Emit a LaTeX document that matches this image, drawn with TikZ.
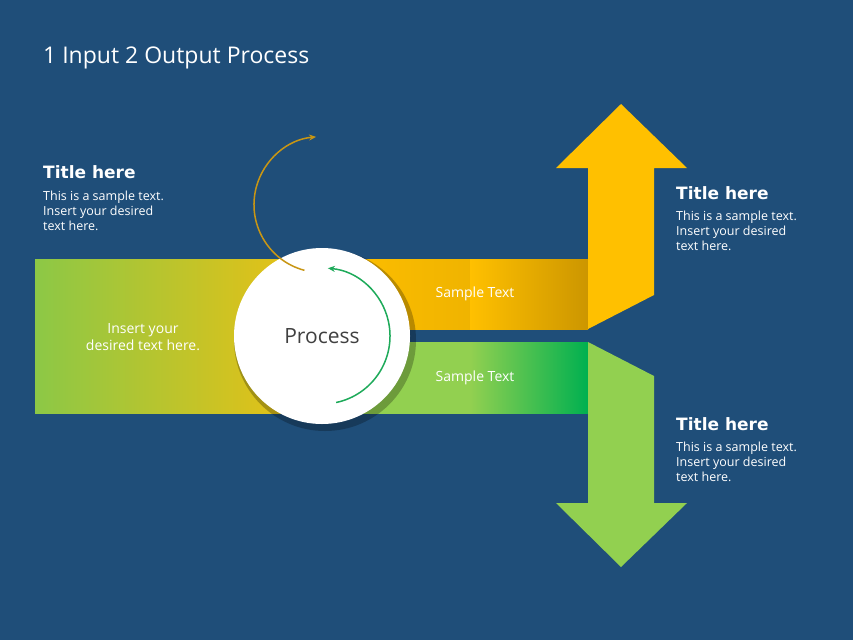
\documentclass[tikz,border=0pt]{standalone}
\usepackage{fontspec}
\setmainfont{Open Sans}
\newfontfamily\dv{DejaVu Sans}
\usetikzlibrary{arrows.meta}
\definecolor{bg}{RGB}{31,78,121}
\definecolor{yel}{RGB}{255,192,0}
\definecolor{dyel}{RGB}{204,150,0}
\definecolor{grn}{RGB}{146,208,80}
\definecolor{dgrn}{RGB}{0,176,80}
\definecolor{lgrn}{RGB}{140,200,70}
\definecolor{ayel}{RGB}{240,192,16}
\definecolor{arcy}{RGB}{200,150,20}
\definecolor{arcg}{RGB}{30,170,90}
\tikzset{
  ttl/.style={text=white,anchor=north west,font=\dv\bfseries\fontsize{17}{20}\selectfont,inner sep=0},
  body/.style={text=white,anchor=north west,align=left,font=\fontsize{12.5}{15}\selectfont,inner sep=0},
  lbl/.style={text=white,font=\fontsize{14}{17}\selectfont},
}
\begin{document}
\begin{tikzpicture}[x=1pt,y=-1pt]
\fill[bg] (0,0) rectangle (853,640);
\useasboundingbox (0,0) rectangle (853,640);
\node[text=white,anchor=north west,inner sep=0,font=\fontsize{23}{26}\selectfont] (title) at (43,47) {1 Input 2 Output Process};
% input band
\shade[left color=lgrn,right color=ayel] (35,259) rectangle (322,413);
% output bands
\shade[left color=yel,right color=yel!70!dyel] (322,259) rectangle (470,329);
\shade[left color=yel,right color=dyel] (470,259) rectangle (588,329);
\shade[left color=grn,right color=grn] (322,342) rectangle (470,413);
\shade[left color=grn,right color=dgrn] (470,342) rectangle (588,413);
% up arrow
\fill[yel] (588,329) -- (588,168) -- (556,168) -- (621,104) -- (687,168) -- (654,168) -- (654,295) -- cycle;
% down arrow
\fill[grn] (588,342) -- (654,376) -- (654,503) -- (687,503) -- (621,567) -- (556,503) -- (588,503) -- cycle;
% circle
\fill[black,opacity=0.25] (325,340) circle (91);
\node[circle,fill=white,minimum size=176,inner sep=0] (proc) at (322,336) {};
\node[text=black!75,font=\fontsize{21}{24}\selectfont] (ptxt) at (322,336) {Process};
\draw[arcy,line width=1.5,-{Stealth[length=7,width=6]}] (322,336) ++(255:68) arc[start angle=255,end angle=95,radius=68,y radius=-68];
\draw[arcg,line width=1.5,-{Stealth[length=7,width=6]}] (322,336) ++(78:68) arc[start angle=78,end angle=-85,radius=68];
\node[lbl] (s1) at (475,294) {Sample Text};
\node[lbl] (s2) at (475,378) {Sample Text};
\node[lbl,align=center] (in) at (143,337) {Insert your\\desired text here.};
% titles
\node[ttl] (t1) at (43,165) {Title here};
\node[body] (b1) at (43,191) {This is a sample text.\\Insert your desired\\text here.};
\node[ttl] (t2) at (676,186) {Title here};
\node[body] (b2) at (676,211) {This is a sample text.\\Insert your desired\\text here.};
\node[ttl] (t3) at (676,417) {Title here};
\node[body] (b3) at (676,442) {This is a sample text.\\Insert your desired\\text here.};
\end{tikzpicture}
\end{document}
